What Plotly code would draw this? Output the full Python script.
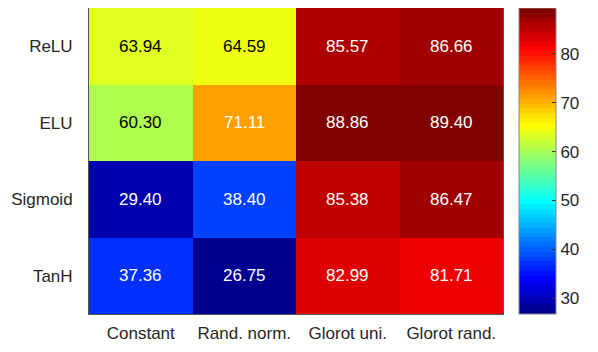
import plotly.graph_objects as go

activations = ["ReLU", "ELU", "Sigmoid", "TanH"]
inits = ["Constant", "Rand. norm.", "Glorot uni.", "Glorot rand."]
acc = [
    [63.94, 64.59, 85.57, 86.66],
    [60.30, 71.11, 88.86, 89.40],
    [29.40, 38.40, 85.38, 86.47],
    [37.36, 26.75, 82.99, 81.71],
]

# MATLAB-style 64 level jet colormap
m = 64
n = 16
u = [i / n for i in range(1, n + 1)] + [1.0] * (n - 1) + [i / n for i in range(n, 0, -1)]
jet64 = [[0.0, 0.0, 0.0] for _ in range(m)]
for k, val in enumerate(u):
    g = n // 2 + k + 1
    for idx, ch in ((g, 1), (g + n, 0), (g - n, 2)):
        if 1 <= idx <= m:
            jet64[idx - 1][ch] = val

jet = []
for k, c in enumerate(jet64):
    rgb = "rgb(%d,%d,%d)" % tuple(round(v * 255) for v in c)
    jet.append([k / m, rgb])
    jet.append([(k + 1) / m, rgb])

zmin = min(min(r) for r in acc)
zmax = max(max(r) for r in acc)

# page body has an 8px margin, so the figure is sized 8px smaller
fig = go.Figure(go.Heatmap(
    z=acc, x=inits, y=activations,
    colorscale=jet, zmin=zmin, zmax=zmax,
    colorbar=dict(
        x=1.0386, xanchor="left", xpad=0, ypad=0,
        y=0.5, yanchor="middle", len=1, lenmode="fraction",
        thickness=37, outlinewidth=1, outlinecolor="#888888",
        tickvals=[30, 40, 50, 60, 70, 80], ticks="inside",
        ticklen=4, tickcolor="#333333",
        tickfont=dict(size=17, color="#262626"),
    ),
    hoverinfo="skip",
))

for i, act in enumerate(activations):
    for j, ini in enumerate(inits):
        v = acc[i][j]
        frac = (v - zmin) / (zmax - zmin)
        col = "black" if 0.45 < frac < 0.65 else "white"
        fig.add_annotation(x=ini, y=act, text="%.2f" % v, showarrow=False,
                           font=dict(size=17, color=col))

fig.update_layout(
    width=590, height=344,
    margin=dict(l=81, r=95, t=0, b=38, autoexpand=False),
    paper_bgcolor="white", plot_bgcolor="white",
    font=dict(family="Liberation Sans, Arial, sans-serif", size=17, color="#262626"),
    xaxis=dict(showline=True, mirror=True, linecolor="#555555", linewidth=1,
               ticks="", showgrid=False, tickfont=dict(size=17),
               ticklabelstandoff=4, automargin=False),
    yaxis=dict(showline=True, mirror=True, linecolor="#555555", linewidth=1,
               ticks="", showgrid=False, autorange="reversed",
               tickfont=dict(size=17), ticklabelstandoff=12, automargin=False),
)

fig.write_html("out.html")
